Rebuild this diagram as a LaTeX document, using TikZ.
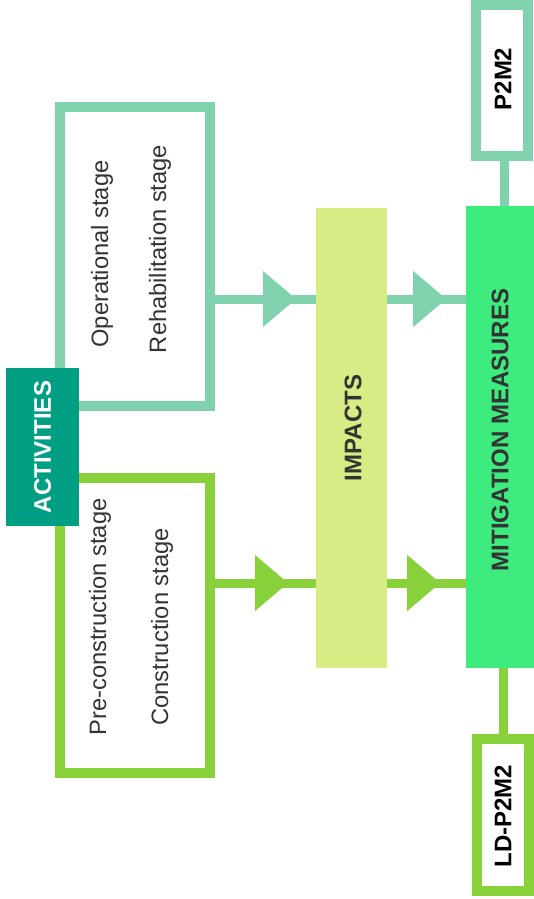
\documentclass[tikz,border=0pt]{standalone}
\usepackage{fontspec}
\setmainfont{Liberation Sans}
\usetikzlibrary{decorations.markings}
\definecolor{tealL}{HTML}{80D2AE}
\definecolor{limeG}{HTML}{88D13A}
\definecolor{actC}{HTML}{009E83}
\definecolor{impC}{HTML}{D7EC84}
\definecolor{mitC}{HTML}{3DEB7E}
\definecolor{txtC}{HTML}{333333}
\tikzset{
  stagebox/.style={draw=#1, line width=10pt, fill=white, inner sep=0pt},
  bartext/.style={rotate=90, font=\bfseries\fontsize{24}{28}\selectfont},
  regtext/.style={rotate=90, text=txtC, font=\fontsize{23.7}{28}\selectfont},
  conn/.style={draw=#1, line width=9pt},
  tri/.style 2 args={postaction={decorate}, decoration={markings,
     mark=at position #1 with {\fill[#2] (0,-28) -- (33,0) -- (0,28) -- cycle;}}},
}
\begin{document}
\begin{tikzpicture}[x=1pt,y=-1pt]
\useasboundingbox (0,0) rectangle (534,899);
% stage boxes
\node[stagebox=tealL, minimum width=150pt, minimum height=299pt] (top) at (135,256.5) {};
\node[stagebox=limeG, minimum width=150pt, minimum height=295pt] (bot) at (135,625.5) {};
\node[regtext] (op) at (102,254) {Operational stage};
\node[regtext] (re) at (160,249) {Rehabilitation stage};
\node[regtext] (pre) at (100,617) {Pre-construction stage};
\node[regtext] (con) at (162,627) {Construction stage};
% activities
\node[fill=actC, minimum width=73pt, minimum height=158pt, inner sep=0pt] (act) at (42.5,447) {};
\node[bartext, text=white] (actt) at (act.center) {ACTIVITIES};
% impacts and mitigation
\node[fill=impC, minimum width=71pt, minimum height=460pt, inner sep=0pt] (imp) at (351.5,438) {};
\node[bartext, text=txtC] (impt) at (353,428) {IMPACTS};
\node[fill=mitC, minimum width=68pt, minimum height=462pt, inner sep=0pt] (mit) at (500,437) {};
\node[bartext, text=txtC] (mitt) at (500,430) {MITIGATION MEASURES};
% P2M2 boxes
\node[stagebox=tealL, minimum width=52pt, minimum height=151pt] (p2) at (502,80.5) {};
\node[bartext, text=black] (p2t) at (503,79) {P2M2};
\node[stagebox=limeG, minimum width=52pt, minimum height=152pt] (ld) at (503,815) {};
\node[bartext, text=black] (ldt) at (503,816) {LD-P2M2};
% connectors
\coordinate (ytop) at (0,299);
\coordinate (ybot) at (0,583);
\draw[conn=tealL, tri={48pt}{tealL}] (top.east |- ytop) -- (imp.west |- ytop);
\draw[conn=tealL, tri={26pt}{tealL}] (imp.east |- ytop) -- (mit.west |- ytop);
\draw[conn=limeG, tri={40pt}{limeG}] (bot.east |- ybot) -- (imp.west |- ybot);
\draw[conn=limeG, tri={20pt}{limeG}] (imp.east |- ybot) -- (mit.west |- ybot);
\draw[conn=tealL] ([xshift=2.5pt]p2.south) -- ([xshift=2.5pt]p2.south |- mit.north);
\draw[conn=limeG] ([xshift=3pt]mit.south) -- ([xshift=3pt]mit.south |- ld.north);
\end{tikzpicture}
\end{document}
